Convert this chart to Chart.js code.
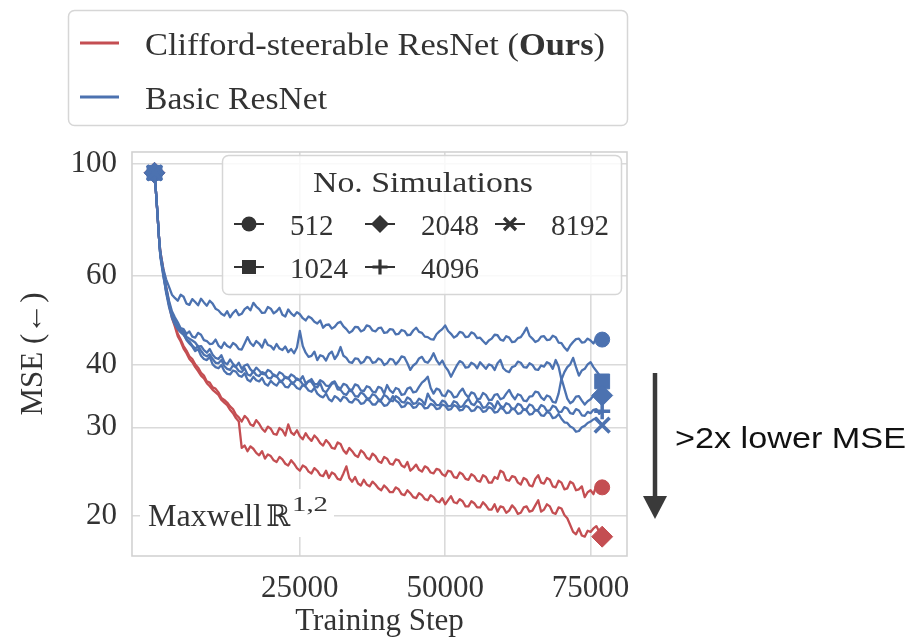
<!DOCTYPE html>
<html>
<head>
<meta charset="utf-8">
<script src="https://cdn.jsdelivr.net/npm/chart.js@4.4.1/dist/chart.umd.min.js"></script>
<style>
  html, body { margin: 0; padding: 0; background: #ffffff; }
  canvas { display: block; }
</style>
</head>
<body>
<canvas id="chart" width="912" height="642"></canvas>
<script>
// Training steps at which the validation MSE was logged
const steps = [0, 250, 500, 750, 1000, 1500, 2000, 2500,
  3000, 3500, 4000, 4500, 5000, 5500, 6000, 6500, 7000, 7500,
  8000, 8500, 9000, 9500, 10000, 10500, 11000, 11500, 12000, 12500,
  13000, 13500, 14000, 14500, 15000, 15500, 16000, 16500, 17000, 17500,
  18000, 18500, 19000, 19500, 20000, 20500, 21000, 21500, 22000, 22500,
  23000, 23500, 24000, 24500, 25000, 25500, 26000, 26500, 27000, 27500,
  28000, 28500, 29000, 29500, 30000, 30500, 31000, 31500, 32000, 32500,
  33000, 33500, 34000, 34500, 35000, 35500, 36000, 36500, 37000, 37500,
  38000, 38500, 39000, 39500, 40000, 40500, 41000, 41500, 42000, 42500,
  43000, 43500, 44000, 44500, 45000, 45500, 46000, 46500, 47000, 47500,
  48000, 48500, 49000, 49500, 50000, 50500, 51000, 51500, 52000, 52500,
  53000, 53500, 54000, 54500, 55000, 55500, 56000, 56500, 57000, 57500,
  58000, 58500, 59000, 59500, 60000, 60500, 61000, 61500, 62000, 62500,
  63000, 63500, 64000, 64500, 65000, 65500, 66000, 66500, 67000, 67500,
  68000, 68500, 69000, 69500, 70000, 70500, 71000, 71500, 72000, 72500,
  73000, 73500, 74000, 74500, 75000, 75500, 76000, 76500, 77000];

// Clifford-steerable ResNet
const cliffordMse512 = [96, 88, 80, 72, 67, 62, 57, 53,
  50, 48.2, 46, 44.8, 43.5, 42.6, 41.5, 41.0, 40, 39.4,
  38.5, 38.0, 37, 36.8, 36, 35.8, 35.2, 34.3, 34, 33.6,
  33, 32.6, 31.8, 31.4, 30.8, 31.6, 31.2, 30.4, 30.2, 31.0,
  30.5, 29.8, 29.4, 30.1, 29.8, 29.1, 29, 29.9, 29.6, 28.9,
  30.4, 29.3, 29, 29.6, 28.8, 28.4, 29.2, 28.6, 28.2, 28.9,
  28.5, 27.9, 27.6, 28.3, 27.9, 27.3, 27.2, 28.0, 27.8, 27.0,
  26.6, 27.3, 26.9, 26.4, 26.2, 27.0, 26.7, 26.1, 25.9, 26.6,
  26.3, 25.7, 25.5, 26.2, 26.0, 25.4, 25.3, 25.9, 25.8, 25.2,
  25.0, 25.6, 24.6, 24.9, 25.3, 24.7, 24.5, 25.1, 24.9, 24.4,
  24.3, 24.8, 24.7, 24.2, 24.0, 24.6, 24.5, 23.9, 23.8, 24.4,
  24.2, 23.7, 23.6, 24.2, 24.0, 23.5, 23.4, 24.1, 23.9, 23.3,
  23.3, 23.9, 23.7, 24.6, 24.4, 23.6, 23.5, 24.0, 23.9, 23.3,
  23.1, 23.8, 23.6, 23.0, 22.9, 23.7, 24.1, 23.3, 23.2, 23.8,
  23.6, 22.9, 22.8, 23.5, 23.3, 22.6, 22.7, 23.4, 23.2, 22.5,
  22.6, 22.9, 21.8, 22.3, 22.5, 22.1, 23.0, 22.7, 22.8];
const cliffordMse2048 = [96, 88, 80, 72, 66.5, 61.5, 56.5, 52.5,
  49.5, 47.6, 45.5, 44.4, 43, 42.1, 41, 40.4, 39.5, 38.8,
  38, 37.5, 36.7, 36.2, 35.6, 35.2, 34.8, 34.0, 33.6, 33.2,
  32.5, 32.0, 31.3, 30.8, 27.3, 27.6, 26.9, 27.5, 27.2, 26.7,
  26.4, 26.9, 26.0, 26.5, 26.3, 25.8, 25.6, 26.2, 25.9, 25.4,
  25.2, 25.8, 25.4, 24.9, 24.6, 25.2, 25.0, 24.5, 24.3, 24.9,
  24.6, 24.1, 24.0, 24.6, 23.8, 24.4, 24.2, 23.7, 23.6, 24.3,
  25.1, 23.8, 23.4, 23.9, 23.2, 23.0, 23.6, 23.1, 22.9, 23.4,
  23.1, 22.7, 22.5, 23.0, 22.7, 22.3, 22.3, 22.8, 22.6, 22.1,
  22.0, 22.5, 22.2, 21.8, 21.7, 22.2, 22.0, 21.6, 21.5, 22.0,
  21.8, 21.4, 21.3, 21.7, 21.1, 21.5, 21.9, 21.3, 21.2, 21.6,
  21.4, 20.9, 20.9, 21.4, 21.2, 20.8, 20.8, 21.3, 21.0, 20.6,
  20.6, 21.1, 20.4, 20.9, 20.8, 20.3, 20.5, 21.0, 20.7, 20.2,
  20.3, 20.8, 20.9, 20.4, 20.5, 21.0, 21.5, 20.4, 20.6, 21.1,
  20.9, 20.3, 20.2, 20.8, 20.7, 20.1, 19.8, 19.2, 18.6, 18.4,
  18.9, 18.3, 18.2, 18.7, 18.6, 18.9, 19.1, 18.6, 18.2];

// Basic ResNet
const basicMse512 = [96, 88, 80, 72, 67, 62, 59, 57,
  55, 54.2, 53.5, 55.0, 54.5, 52.8, 52.5, 53.9, 53.2, 52.4,
  54.0, 53.1, 52.3, 53.5, 52.8, 51.6, 51.2, 50.4, 50.0, 51.0,
  49.6, 50.6, 51.3, 50.1, 50.4, 51.5, 52.0, 51.2, 53.0, 52.1,
  51.5, 50.6, 50.7, 52.0, 51.6, 50.5, 51.0, 51.8, 50.2, 49.8,
  51.4, 50.5, 49.9, 50.8, 50.3, 49.4, 48.9, 49.8, 49.4, 48.6,
  48.2, 48.9, 47.3, 47.9, 48.0, 47.1, 47.5, 48.3, 48.6, 47.6,
  47.0, 46.2, 46.6, 47.5, 47.4, 46.5, 46.8, 47.8, 47.6, 46.7,
  46.5, 47.2, 47.3, 46.2, 46.3, 47.0, 46.9, 45.9, 46.0, 46.8,
  46.6, 45.7, 45.8, 46.7, 47.3, 46.4, 46.2, 45.4, 45.3, 44.9,
  44.8, 45.9, 46.5, 47.0, 47.8, 46.6, 46.0, 45.2, 45.6, 46.4,
  46.2, 45.3, 45.4, 46.3, 46.0, 45.1, 45.2, 44.5, 43.9, 44.6,
  45.0, 45.8, 45.7, 44.8, 44.6, 45.5, 45.2, 44.3, 44.4, 45.1,
  45.3, 46.2, 47.3, 45.6, 45.0, 44.3, 44.6, 45.4, 45.5, 44.7,
  44.8, 45.6, 45.3, 44.2, 44.1, 43.2, 42.6, 43.6, 44.3, 44.9,
  45.0, 44.2, 44.3, 45.0, 44.6, 44.0, 45.1, 44.5, 44.8];
const basicMse1024 = [96, 88, 80, 72, 66, 61, 57, 53.5,
  51, 49.6, 48.5, 47.2, 47, 46.0, 46.5, 45.4, 45.2, 46.2,
  45.8, 44.7, 44.5, 43.9, 44.0, 44.8, 43.6, 43.1, 44.2, 43.5,
  43.2, 44.1, 43.7, 42.9, 42.8, 44.0, 45.3, 44.1, 43.5, 44.5,
  44.0, 43.2, 44.8, 43.7, 43.5, 42.8, 43.9, 43.0, 42.7, 43.4,
  42.3, 42.9, 42.1, 43.2, 46.6, 43.5, 42.2, 41.4, 41.6, 42.4,
  40.8, 41.7, 41.5, 40.7, 41.9, 42.4, 41.0, 41.8, 43.3, 41.6,
  41.2, 40.4, 40.3, 41.1, 41.0, 40.2, 40.5, 41.4, 41.2, 40.3,
  40.4, 41.1, 40.8, 39.9, 40.2, 41.0, 40.9, 40.0, 40.6, 41.5,
  41.3, 40.2, 39.0, 39.8, 40.2, 41.1, 41.4, 40.5, 40.3, 41.0,
  42.1, 40.8, 40.0, 40.7, 39.6, 38.9, 37.8, 38.8, 39.8, 40.6,
  40.3, 39.4, 39.5, 40.3, 40.0, 39.3, 40.4, 39.8, 39.2, 40.0,
  39.8, 39.0, 40.2, 40.8, 39.3, 38.8, 38.6, 39.5, 39.7, 40.5,
  40.3, 39.5, 39.4, 40.2, 39.9, 39.1, 39.0, 39.8, 39.6, 40.4,
  40.1, 39.2, 40.8, 39.6, 37.3, 38.6, 39.5, 40.0, 41.2, 39.5,
  38.0, 38.9, 39.2, 40.0, 40.4, 39.5, 38.8, 38.1, 37.0];
const basicMse2048 = [96, 88, 80, 72, 65.5, 60, 56, 52.5,
  50, 48.6, 47.5, 46.8, 46.5, 45.4, 45.0, 44.6, 44.2, 43.4,
  43.5, 42.7, 42.2, 42.9, 41.8, 41.2, 41.0, 41.7, 40.4, 40.0,
  40.9, 40.1, 39.6, 40.3, 39.2, 39.8, 40.0, 39.1, 38.6, 39.4,
  38.9, 38.3, 38.2, 39.0, 38.7, 38.0, 37.8, 38.6, 38.3, 37.6,
  37.5, 38.2, 37.9, 37.3, 37.2, 37.9, 36.7, 37.0, 37.4, 36.6,
  36.5, 37.2, 36.9, 36.3, 36.2, 36.8, 37.0, 36.1, 35.8, 36.6,
  36.4, 35.7, 35.6, 36.5, 36.3, 35.5, 35.4, 36.2, 36.0, 35.3,
  35.2, 36.1, 35.9, 35.0, 36.4, 35.5, 35.1, 35.9, 35.7, 34.8,
  34.9, 35.8, 36.0, 35.2, 35.3, 36.1, 36.8, 37.2, 37.8, 35.9,
  35.0, 35.8, 35.6, 34.7, 34.6, 35.5, 35.2, 34.4, 34.5, 35.3,
  35.8, 34.9, 34.4, 35.2, 35.0, 34.1, 34.2, 35.1, 34.8, 34.0,
  34.0, 34.8, 34.9, 34.1, 34.3, 35.0, 35.6, 34.7, 34.1, 34.9,
  34.7, 33.9, 33.8, 34.5, 34.6, 35.3, 35.2, 34.4, 34.0, 34.7,
  34.5, 33.7, 33.6, 35.0, 37.5, 35.8, 34.2, 33.5, 33.8, 34.5,
  34.6, 33.9, 33.3, 33.8, 34.1, 34.7, 35.0, 35.2, 34.7];
const basicMse4096 = [96, 88, 80, 72, 66, 60.5, 55.5, 52,
  49.5, 48.0, 47, 46.3, 45.8, 44.9, 44.4, 43.6, 43.0, 43.5,
  42.6, 41.8, 41.5, 41.9, 41.0, 40.3, 40.2, 40.8, 39.7, 39.2,
  39.0, 39.8, 39.5, 38.8, 38.6, 39.3, 38.2, 38.0, 38.8, 38.1,
  37.9, 38.6, 38.4, 37.6, 37.5, 38.2, 37.9, 37.2, 37.1, 37.8,
  37.6, 36.9, 36.8, 37.5, 37.2, 36.5, 36.4, 37.1, 36.9, 36.2,
  36.0, 36.7, 35.5, 35.2, 35.9, 36.6, 36.8, 35.7, 35.6, 35.0,
  34.8, 35.5, 35.3, 34.6, 34.5, 35.2, 34.9, 34.3, 34.2, 34.9,
  34.7, 34.1, 34.0, 34.8, 34.5, 33.9, 33.8, 34.6, 34.3, 33.7,
  33.6, 34.4, 34.1, 33.4, 33.5, 34.2, 33.9, 33.3, 35.0, 34.1,
  33.8, 33.2, 33.2, 33.9, 33.7, 33.0, 33.1, 33.8, 33.6, 32.9,
  33.0, 33.7, 34.2, 33.4, 33.2, 33.9, 33.6, 32.8, 32.9, 33.6,
  33.4, 32.7, 33.8, 33.1, 32.8, 33.5, 33.3, 32.6, 32.7, 33.4,
  33.2, 32.5, 32.6, 33.3, 33.1, 32.4, 32.5, 33.2, 33.0, 32.3,
  32.4, 33.1, 32.9, 32.2, 32.2, 32.9, 32.7, 32.0, 31.9, 32.6,
  32.4, 31.7, 31.6, 32.2, 32.0, 32.5, 32.6, 31.9, 32.3];
const basicMse8192 = [96, 88, 80, 72, 66, 61, 56, 52.8,
  50.2, 48.8, 47.8, 46.6, 46.0, 44.7, 44.0, 43.4, 42.5, 42.9,
  41.6, 41.0, 40.8, 41.4, 40.0, 39.5, 39.3, 39.9, 38.8, 38.3,
  38.2, 38.9, 38.7, 38.0, 37.8, 38.4, 37.3, 37.0, 37.8, 37.2,
  37.0, 37.6, 36.6, 36.3, 37.1, 36.6, 36.3, 37.0, 36.8, 36.1,
  36.0, 36.7, 36.5, 35.9, 35.7, 36.4, 36.1, 35.5, 35.3, 35.9,
  35.0, 34.6, 34.4, 35.0, 34.1, 33.8, 34.6, 34.3, 33.8, 34.5,
  34.3, 33.7, 33.6, 34.2, 34.0, 33.4, 33.5, 34.1, 33.9, 33.3,
  33.3, 33.9, 33.7, 33.1, 33.2, 33.8, 34.6, 33.9, 33.6, 32.9,
  33.0, 33.6, 33.4, 32.8, 32.9, 33.5, 33.3, 32.7, 32.8, 33.4,
  33.2, 32.6, 32.7, 33.3, 33.1, 32.5, 32.6, 33.2, 33.0, 32.4,
  32.5, 33.1, 32.9, 32.3, 32.4, 33.0, 32.8, 32.2, 32.3, 32.9,
  32.7, 32.1, 32.2, 32.8, 32.6, 32.0, 32.1, 32.7, 32.5, 31.9,
  32.0, 32.6, 32.4, 31.8, 31.9, 32.5, 32.3, 31.7, 31.6, 32.2,
  32.0, 31.3, 31.4, 31.9, 31.2, 30.7, 30.6, 30.1, 29.9, 29.4,
  29.5, 30.0, 30.2, 30.6, 30.8, 31.1, 31.3, 30.8, 30.3];

const xTicks = [25000, 50000, 75000];
const yTicks = [20, 30, 40, 60, 100];
const modelNames = ['Clifford-steerable ResNet', 'Basic ResNet'];
const simCounts = [512, 1024, 2048, 4096, 8192];

const RED = '#c44e52';
const BLUE = '#4c72b0';
const INK = '#333333';
const GRID = '#dadada';
const SERIF = "'Liberation Serif', 'DejaVu Serif', serif";
const SANS = "'Liberation Sans', Arial, sans-serif";

// marker shape and size per simulation count
const markerFor = {
  512: { style: 'circle', r: 7.5, bw: 1 },
  1024: { style: 'rect', r: 10.5, bw: 1 },
  2048: { style: 'rectRot', r: 10.5, bw: 1 },
  4096: { style: 'cross', r: 8, bw: 3.5 },
  8192: { style: 'crossRot', r: 10.5, bw: 3.5 }
};

// first entry is drawn on top
const series = [
  { values: basicMse8192, color: BLUE, sims: 8192 },
  { values: basicMse4096, color: BLUE, sims: 4096 },
  { values: basicMse2048, color: BLUE, sims: 2048 },
  { values: basicMse1024, color: BLUE, sims: 1024 },
  { values: basicMse512, color: BLUE, sims: 512 },
  { values: cliffordMse2048, color: RED, sims: 2048 },
  { values: cliffordMse512, color: RED, sims: 512 }
];

const lastIndex = steps.length - 1;
const datasets = series.map(s => {
  const m = markerFor[s.sims];
  return {
    data: steps.map((x, i) => ({ x: x, y: s.values[i] })),
    borderColor: s.color,
    backgroundColor: s.color,
    borderWidth: 2.3,
    borderJoinStyle: 'round',
    tension: 0,
    pointStyle: m.style,
    pointBackgroundColor: s.color,
    pointBorderColor: s.color,
    pointBorderWidth: m.bw,
    pointRadius: ctx => (ctx.dataIndex === 0 || ctx.dataIndex === lastIndex) ? m.r : 0,
    pointHoverRadius: 0,
    pointHitRadius: 0
  };
});

function drawMarker(ctx, style, x, y, r, color) {
  ctx.save();
  ctx.fillStyle = color;
  ctx.strokeStyle = color;
  ctx.beginPath();
  if (style === 'circle') {
    ctx.arc(x, y, r, 0, Math.PI * 2);
    ctx.fill();
  } else if (style === 'rect') {
    ctx.rect(x - r, y - r, 2 * r, 2 * r);
    ctx.fill();
  } else if (style === 'rectRot') {
    ctx.moveTo(x, y - r); ctx.lineTo(x + r, y); ctx.lineTo(x, y + r); ctx.lineTo(x - r, y);
    ctx.closePath();
    ctx.fill();
  } else if (style === 'cross') {
    ctx.lineWidth = 3.2;
    ctx.moveTo(x - r, y); ctx.lineTo(x + r, y);
    ctx.moveTo(x, y - r); ctx.lineTo(x, y + r);
    ctx.stroke();
  } else if (style === 'crossRot') {
    ctx.lineWidth = 3.2;
    ctx.moveTo(x - r, y - r); ctx.lineTo(x + r, y + r);
    ctx.moveTo(x + r, y - r); ctx.lineTo(x - r, y + r);
    ctx.stroke();
  }
  ctx.restore();
}

// draws text runs left to right, stretched horizontally to span the given width
function fitRuns(ctx, runs, x, baseline, width, color) {
  let total = 0;
  runs.forEach(r => { ctx.font = r.font; total += ctx.measureText(r.text).width; });
  const sx = width / total;
  ctx.save();
  ctx.fillStyle = color;
  ctx.textBaseline = 'alphabetic';
  ctx.textAlign = 'left';
  ctx.translate(x, baseline);
  ctx.scale(sx, 1);
  let cx = 0;
  runs.forEach(r => {
    ctx.font = r.font;
    ctx.fillText(r.text, cx, 0);
    cx += ctx.measureText(r.text).width;
  });
  ctx.restore();
}

function roundBox(ctx, x, y, w, h, rad, fill, stroke) {
  ctx.save();
  ctx.beginPath();
  ctx.roundRect(x, y, w, h, rad);
  ctx.fillStyle = fill;
  ctx.fill();
  ctx.lineWidth = 1.5;
  ctx.strokeStyle = stroke;
  ctx.stroke();
  ctx.restore();
}

const decorations = {
  id: 'decorations',
  beforeDatasetsDraw(chart) {
    const ctx = chart.ctx;
    const a = chart.chartArea;
    // plot frame
    ctx.save();
    ctx.strokeStyle = '#d2d2d2';
    ctx.lineWidth = 1.6;
    ctx.strokeRect(a.left, a.top, a.right - a.left, a.bottom - a.top);
    ctx.restore();

    // dataset label with white background
    ctx.save();
    ctx.fillStyle = '#ffffff';
    ctx.fillRect(140, 489, 194, 48);
    ctx.restore();
    fitRuns(ctx, [{ text: 'Maxwell', font: '32px ' + SERIF }], 148, 526, 114, INK);
    fitRuns(ctx, [{ text: '\u211D', font: "30px 'DejaVu Serif', 'DejaVu Sans', serif" }], 266, 526, 24, INK);
    fitRuns(ctx, [{ text: '1,2', font: '21px ' + SERIF }], 292, 511, 36, INK);
  },
  afterDraw(chart) {
    const ctx = chart.ctx;

    // model legend
    roundBox(ctx, 68.5, 10.5, 559, 115, 6, '#ffffff', '#d6d6d6');
    ctx.save();
    ctx.lineWidth = 3;
    ctx.strokeStyle = RED;
    ctx.beginPath(); ctx.moveTo(80, 43); ctx.lineTo(119, 43); ctx.stroke();
    ctx.strokeStyle = BLUE;
    ctx.beginPath(); ctx.moveTo(80, 97); ctx.lineTo(119, 97); ctx.stroke();
    ctx.restore();
    fitRuns(ctx, [
      { text: modelNames[0] + ' (', font: '31px ' + SERIF },
      { text: 'Ours', font: 'bold 31px ' + SERIF },
      { text: ')', font: '31px ' + SERIF }
    ], 145, 55, 460, INK);
    fitRuns(ctx, [{ text: modelNames[1], font: '31px ' + SERIF }], 145, 109, 182, INK);

    // simulation-count legend
    roundBox(ctx, 222.5, 155.5, 399, 139, 6, 'rgba(255,255,255,0.82)', '#d6d6d6');
    fitRuns(ctx, [{ text: 'No. Simulations', font: '30px ' + SERIF }], 313, 192, 220, INK);
    const cols = [249, 380, 510];
    const rows = [224, 267];
    simCounts.forEach((n, i) => {
      const cx = cols[Math.floor(i / 2)];
      const cy = rows[i % 2];
      const m = markerFor[n];
      ctx.save();
      ctx.strokeStyle = INK;
      ctx.lineWidth = 2;
      ctx.beginPath(); ctx.moveTo(cx - 15, cy); ctx.lineTo(cx + 15, cy); ctx.stroke();
      ctx.restore();
      drawMarker(ctx, m.style, cx, cy, m.style === 'rect' ? 7 : (m.style === 'rectRot' ? 9 : (m.style === 'crossRot' ? 6 : 7.5)), INK);
      ctx.save();
      ctx.fillStyle = INK;
      ctx.font = '29px ' + SERIF;
      ctx.textBaseline = 'alphabetic';
      ctx.fillText(String(n), cx + 41, cy + 11);
      ctx.restore();
    });

    // improvement annotation
    ctx.save();
    ctx.strokeStyle = '#3a3a3a';
    ctx.fillStyle = '#3a3a3a';
    ctx.lineWidth = 4.5;
    ctx.beginPath(); ctx.moveTo(655, 373); ctx.lineTo(655, 500); ctx.stroke();
    ctx.beginPath(); ctx.moveTo(643, 496); ctx.lineTo(667, 496); ctx.lineTo(655, 519); ctx.closePath(); ctx.fill();
    ctx.restore();
    fitRuns(ctx, [{ text: '>2x lower MSE', font: '30px ' + SANS }], 675, 448, 231, '#111111');
  }
};

new Chart(document.getElementById('chart'), {
  type: 'line',
  data: { datasets: datasets },
  plugins: [decorations],
  options: {
    responsive: false,
    animation: false,
    devicePixelRatio: 1,
    layout: { padding: { left: 0, right: 285, top: 152, bottom: 0 } },
    plugins: { legend: { display: false }, tooltip: { enabled: false } },
    scales: {
      x: {
        type: 'linear',
        min: -3870,
        max: 81270,
        afterBuildTicks: scale => { scale.ticks = xTicks.map(v => ({ value: v })); },
        afterFit: scale => { scale.height = 86; },
        grid: { color: GRID, lineWidth: 1.6, drawTicks: false },
        border: { display: false },
        ticks: {
          padding: 14, color: INK, autoSkip: false, maxRotation: 0,
          font: { family: SERIF, size: 31 },
          callback: v => String(v)
        },
        title: {
          display: true, text: 'Training Step', color: INK,
          font: { family: SERIF, size: 31 },
          padding: { top: 0, bottom: 2 }
        }
      },
      y: {
        type: 'logarithmic',
        min: 16.66,
        max: 105.6,
        bounds: 'data',
        afterBuildTicks: scale => { scale.ticks = yTicks.map(v => ({ value: v })); },
        afterFit: scale => { scale.width = 132; },
        grid: { color: GRID, lineWidth: 1.6, drawTicks: false },
        border: { display: false },
        ticks: {
          padding: 15, color: INK, autoSkip: false,
          font: { family: SERIF, size: 31 },
          callback: v => String(v)
        },
        title: {
          display: true, text: 'MSE (\u2190)', color: INK,
          font: { family: SERIF, size: 31 },
          padding: { top: 15, bottom: 0 }
        }
      }
    }
  }
});
</script>
</body>
</html>
